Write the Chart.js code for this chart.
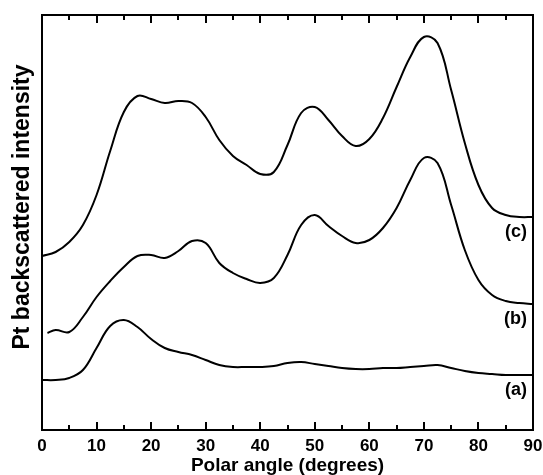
<!DOCTYPE html>
<html>
<head>
<meta charset="utf-8">
<script src="https://cdn.jsdelivr.net/npm/chart.js@4/dist/chart.umd.min.js"></script>
<style>
  body { margin: 0; background: #fff; }
  canvas { display: block; }
</style>
</head>
<body>
<canvas id="chart" width="543" height="475"></canvas>
<script>
// polar angles (degrees) where the curves were read
const angles = [0, 2.5, 5, 7.5, 10, 12.5, 15, 17.5, 20, 22.5, 25, 27.5, 30, 32.5, 35, 37.5, 40, 42.5, 45,
	47.5, 50, 52.5, 55, 57.5, 60, 62.5, 65, 67.5, 70, 72.5, 75, 77.5, 80, 82.5, 85, 87.5, 90];

// curve (a)
const aValue = [50, 50, 52, 60, 82, 104, 110, 103, 91, 82, 78, 75, 70, 65, 63, 63, 63, 64, 67,
	68, 66, 64, 62, 61, 61, 62, 62, 63, 64, 65, 62, 59, 57, 56, 55, 55, 55];

// curve (b), starts a little after 0 degrees
const bStart = 1;
const bValue = [97, 100, 98, 113, 133, 149, 163, 174, 175, 172, 179, 189, 187, 167, 157, 151, 147, 152, 175,
	205, 215, 204, 194, 187, 190, 202, 222, 250, 272, 267, 225, 180, 150, 135, 129, 127, 126];

// curve (c)
const cValue = [174, 178, 188, 205, 235, 279, 318, 334, 331, 327, 329, 327, 313, 290, 274, 265, 256, 258, 285,
	317, 323, 310, 294, 284, 291, 312, 343, 373, 393, 387, 340, 287, 245, 222, 215, 213, 213];

const curveLabels = ["(a)", "(b)", "(c)"];
const xTicks = [0, 10, 20, 30, 40, 50, 60, 70, 80, 90];

const font = "'Liberation Sans', Arial, sans-serif";

const toPoints = (ys, first) =>
	ys.map((y, i) => ({ x: i === 0 && first !== undefined ? first : angles[i], y: y }));

const makeSet = (label, points) => ({
	label: label,
	data: points,
	borderColor: "#000",
	borderWidth: 2,
	pointRadius: 0,
	fill: false,
	tension: 0.4,
});

// frame, inner ticks, curve labels and y title
const framePlugin = {
	id: "frame",
	afterDraw(chart) {
		const ctx = chart.ctx;
		const area = chart.chartArea;
		const xs = chart.scales.x;
		const ys = chart.scales.y;
		ctx.save();
		ctx.strokeStyle = "#000";
		ctx.lineWidth = 2;
		ctx.strokeRect(area.left, area.top, area.right - area.left, area.bottom - area.top);

		for (let v = 5; v < 90; v += 5) {
			const px = Math.round(xs.getPixelForValue(v));
			const len = v % 10 === 0 ? 8 : 5;
			ctx.beginPath();
			ctx.moveTo(px, area.bottom);
			ctx.lineTo(px, area.bottom - len);
			ctx.moveTo(px, area.top);
			ctx.lineTo(px, area.top + len);
			ctx.stroke();
		}

		// labels under the right end of each curve
		ctx.fillStyle = "#000";
		ctx.font = "bold 18px " + font;
		ctx.textAlign = "right";
		ctx.textBaseline = "middle";
		chart.data.datasets.forEach((ds, i) => {
			const last = ds.data[ds.data.length - 1];
			const py = ys.getPixelForValue(last.y) + 15;
			ctx.fillText(curveLabels[i], area.right - 6, py);
		});

		ctx.translate(23, 207);
		ctx.rotate(-Math.PI / 2);
		ctx.textAlign = "center";
		ctx.font = "bold 23px " + font;
		ctx.fillText("Pt backscattered intensity", 0, 0);
		ctx.restore();
	},
};

new Chart(document.getElementById("chart"), {
	type: "line",
	data: {
		datasets: [
			makeSet("(a)", toPoints(aValue)),
			makeSet("(b)", toPoints(bValue, bStart)),
			makeSet("(c)", toPoints(cValue)),
		],
	},
	options: {
		responsive: false,
		animation: false,
		layout: { padding: { left: 42, right: 10, top: 15, bottom: 0 } },
		plugins: {
			legend: { display: false },
			tooltip: { enabled: false },
		},
		scales: {
			x: {
				type: "linear",
				min: 0,
				max: 90,
				afterBuildTicks: (scale) => {
					scale.ticks = xTicks.map((v) => ({ value: v }));
				},
				afterFit: (scale) => {
					scale.height = 45;
					scale.paddingLeft = 0;
					scale.paddingRight = 0;
				},
				grid: { display: false, drawTicks: false },
				border: { display: false },
				ticks: {
					color: "#000",
					padding: 8,
					maxRotation: 0,
					font: { family: font, size: 17, weight: "bold", lineHeight: 1 },
				},
				title: {
					display: true,
					text: "Polar angle (degrees)",
					color: "#000",
					padding: 0,
					font: { family: font, size: 19, weight: "bold", lineHeight: 1 },
				},
			},
			y: {
				display: false,
				min: 0,
				max: 415,
			},
		},
	},
	plugins: [framePlugin],
});
</script>
</body>
</html>
